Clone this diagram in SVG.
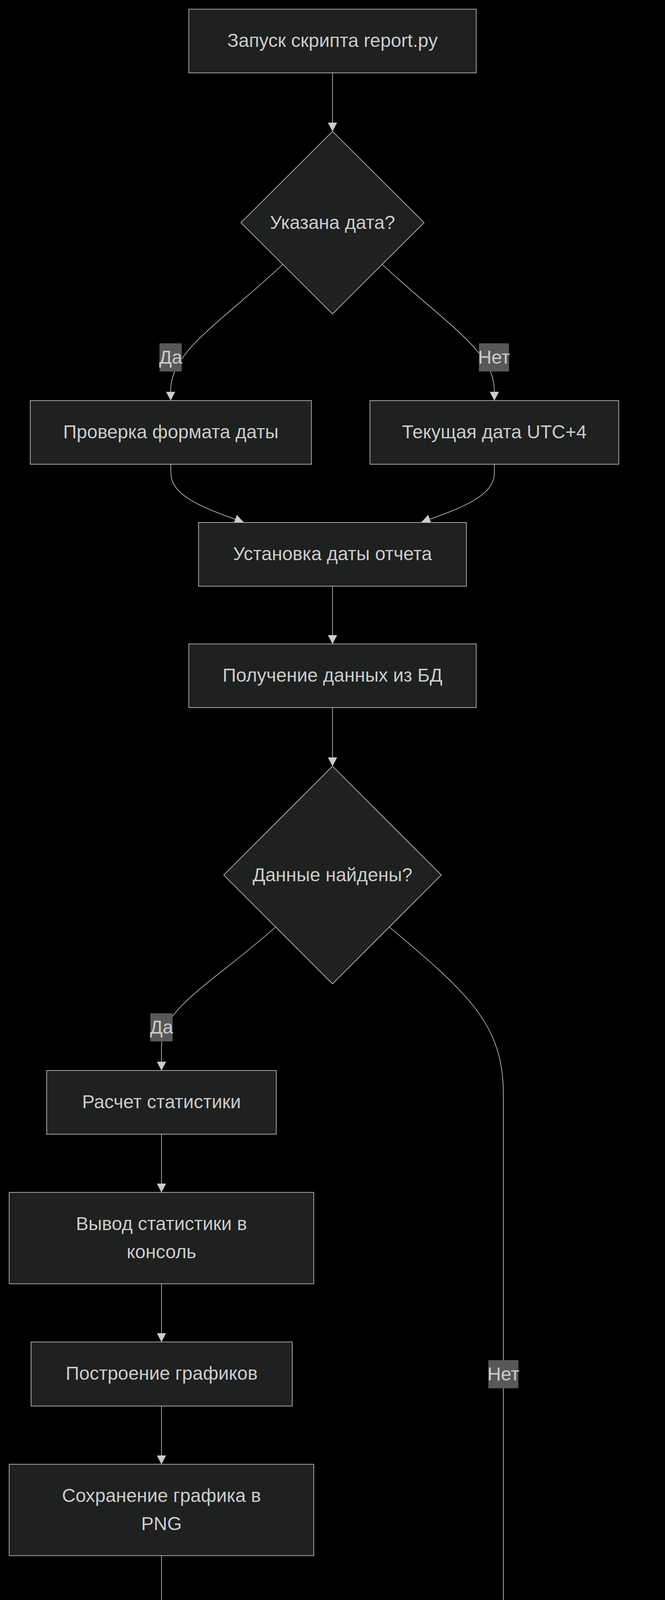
<svg xmlns="http://www.w3.org/2000/svg" width="1703" height="5015" viewBox="0 0 1703 5015">
<style>
.n{fill:#1f2020;stroke:#cccccc;stroke-width:1.6}
.e{fill:none;stroke:#cccccc;stroke-width:1.6;marker-end:url(#arr)}
.lb{fill:#585858}
text{font-family:"Liberation Sans",Arial,sans-serif;font-size:48px;fill:#cccccc;text-anchor:middle}
</style>
<defs>
<marker id="arr" viewBox="0 0 23 24" refX="23" refY="12" markerWidth="23" markerHeight="24" markerUnits="userSpaceOnUse" orient="auto">
<path d="M0,0 L23,12 L0,24 z" fill="#cccccc"/>
</marker>
</defs>
<rect x="0" y="0" width="1703" height="5015" fill="#000000"/>
<g id="connectors">
<path class="e" d="M851.5,186.5 L851.5,336.5"/>
<path class="e" d="M724,677 C560,830 437,900 437,1000 L437,1025.5"/>
<path class="e" d="M979,677 C1143,830 1266,900 1266,1000 L1266,1025.5"/>
<path class="e" d="M437.5,1188.5 L437.5,1210 C437.5,1270 520,1300 624,1337"/>
<path class="e" d="M1266,1188.5 L1266,1210 C1266,1270 1183,1300 1079,1337"/>
<path class="e" d="M851.5,1500.5 L851.5,1648.5"/>
<path class="e" d="M851.5,1811.5 L851.5,1961.5"/>
<path class="e" d="M706,2373 C540,2520 413.5,2580 413.5,2680 L413.5,2740.5"/>
<path class="e" d="M997,2373 C1195,2540 1289,2620 1289,2800 L1289,4444.5"/>
<path class="e" d="M413.5,2903.5 L413.5,3052.5"/>
<path class="e" d="M413.5,3286.5 L413.5,3435.5"/>
<path class="e" d="M413.5,3599.5 L413.5,3748.5"/>
<path class="e" d="M413.5,3982.5 L413.5,4132.5"/>
<path class="e" d="M413.5,4295.5 L413.5,4480.5"/>
<path class="e" d="M414,4643.5 L414,4670 C414,4740 480,4785 614,4828.5"/>
<path class="e" d="M1289,4678.5 L1289,4700 C1289,4760 1220,4795 1087,4828.5"/>
<g id="label-da1"><rect class="lb" x="408.5" y="879" width="57" height="72"/><text x="437" y="931">Да</text></g>
<g id="label-net1"><rect class="lb" x="1226.5" y="879" width="77" height="72"/><text x="1265" y="931">Нет</text></g>
<g id="label-da2"><rect class="lb" x="385" y="2594" width="57" height="72"/><text x="413.5" y="2646">Да</text></g>
<g id="label-net2"><rect class="lb" x="1250.5" y="3482" width="77" height="72"/><text x="1289" y="3534">Нет</text></g>
</g>
<g id="start"><rect class="n" x="483.5" y="23.5" width="736" height="163"/><text x="851.5" y="120">Запуск скрипта report.py</text></g>
<g id="date-given"><polygon class="n" points="851.5,336.5 1086,570 851.5,803.5 617,570"/><text x="851.5" y="586">Указана дата?</text></g>
<g id="check-format"><rect class="n" x="77.5" y="1025.5" width="720" height="163"/><text x="437.5" y="1122">Проверка формата даты</text></g>
<g id="current-date"><rect class="n" x="947.5" y="1025.5" width="637" height="163"/><text x="1266" y="1122">Текущая дата UTC+4</text></g>
<g id="set-date"><rect class="n" x="508.5" y="1337.5" width="686" height="163"/><text x="851.5" y="1434">Установка даты отчета</text></g>
<g id="fetch-data"><rect class="n" x="483.5" y="1648.5" width="736" height="163"/><text x="851.5" y="1745">Получение данных из БД</text></g>
<g id="data-found"><polygon class="n" points="851.5,1961.5 1130,2240 851.5,2518.5 573,2240"/><text x="851.5" y="2256">Данные найдены?</text></g>
<g id="calc-stats"><rect class="n" x="119.5" y="2740.5" width="588" height="163"/><text x="413.5" y="2837">Расчет статистики</text></g>
<g id="print-stats"><rect class="n" x="23.5" y="3052.5" width="780" height="234"/><text x="413.5" y="3149">Вывод статистики в</text><text x="413.5" y="3221">консоль</text></g>
<g id="plot"><rect class="n" x="79.5" y="3435.5" width="669" height="164"/><text x="414" y="3532">Построение графиков</text></g>
<g id="save-png"><rect class="n" x="23.5" y="3748.5" width="780" height="234"/><text x="413.5" y="3845">Сохранение графика в</text><text x="413.5" y="3917">PNG</text></g>
<g id="save-txt"><rect class="n" x="44.5" y="4132.5" width="739" height="163"/><text x="414" y="4229">Сохранение отчета в TXT</text></g>
<g id="gen-pdf"><rect class="n" x="78.5" y="4480.5" width="671" height="163"/><text x="414" y="4577">Генерация PDF отчета</text></g>
<g id="error-msg"><rect class="n" x="899.5" y="4444.5" width="779" height="234"/><text x="1289" y="4541">Вывод сообщения об</text><text x="1289" y="4613">ошибке</text></g>
<g id="finish"><rect class="n" x="539.5" y="4828.5" width="624" height="163"/><text x="851.5" y="4925">Завершение работы</text></g>
</svg>
